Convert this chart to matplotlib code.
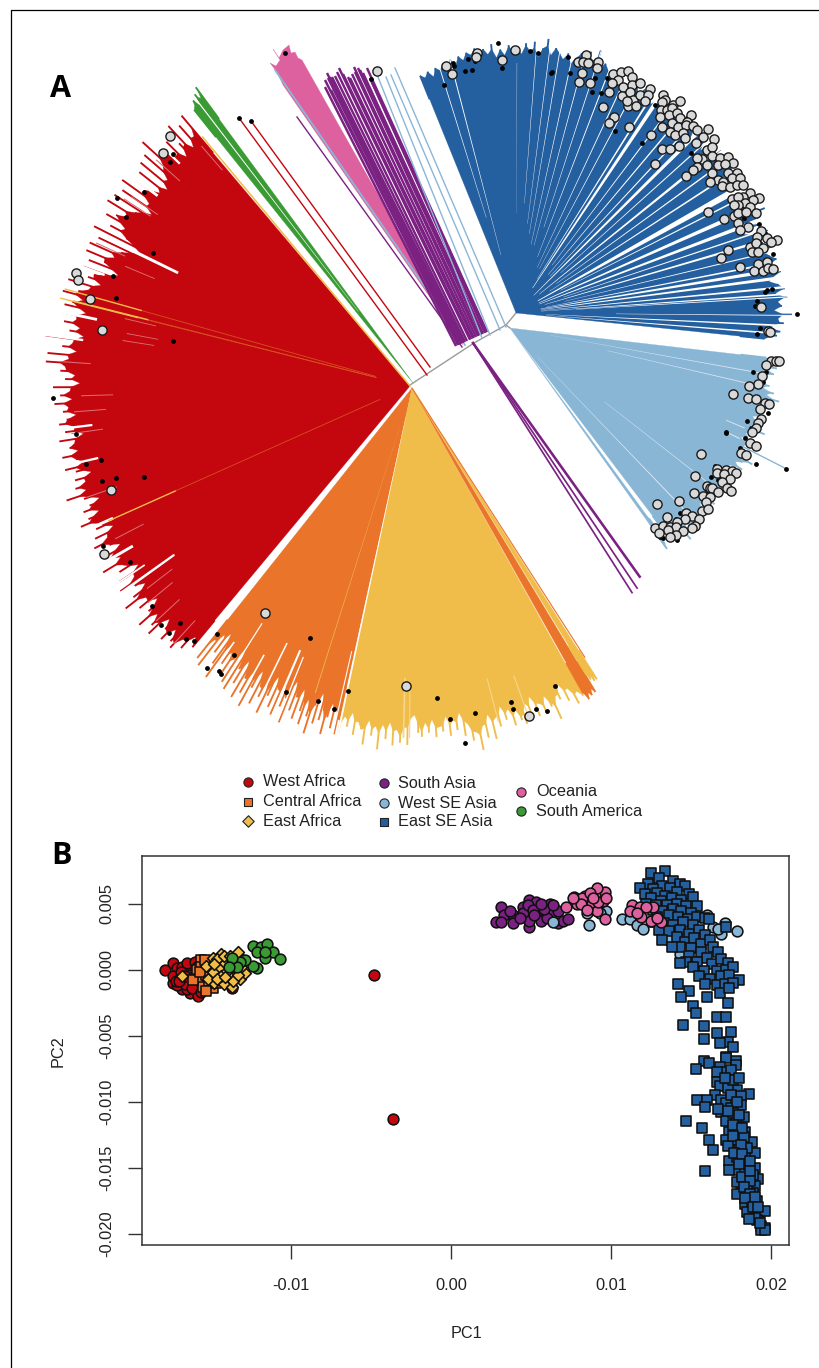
import numpy as np
import matplotlib
matplotlib.use("Agg")
import matplotlib.pyplot as plt
from matplotlib.patches import Polygon

plt.rcParams['font.family'] = ['Liberation Sans', 'DejaVu Sans']

RED, ORANGE, YELLOW = '#C4060F', '#E9742A', '#F0BD4A'
PURPLE, LBLUE, DBLUE = '#7A2182', '#8AB6D6', '#245F9F'
PINK, GREEN = '#DE619F', '#3A9A33'

# ---------- Panel A: tip lengths read from the tree (pixels from the hub)
red_tips = [354,330,348,322,355,335,320,345,328,342,
            335,362,330,352,318,350,312,345,316,340,
            330,354,318,348,310,352,325,355,330,340,
            349,325,340,320,354,300,345,318,351,322,
            351,330,345,312,348,335,340,325,358,335,
            345,360,338,348,355,332,355,340,352,335,
            345,330,368,340,350,335,364,342,365,345,
            350,335,345,330,357,340,350,338,356,342,
            348,335,345,353,338,348,330,355,340,346,
            338,355,342,335,355,345,330,348,338,350,
            340,362,345,330,342,350,335,348,358,340,
            345,328,350,338,355,340,330,345,350,336,
            359,338,345,325,350,335,355,340,330,348,
            361,338,350,330,345,361,340,352,360,335,
            345,355,338,350,355,340,348,330,340]
orange_tips = [345,320,350,310,330,305,340,355,315,335,320,345,325,350,310,355,
               330,345,318,358,335,350,325,362,340,320,355,335,345,328,360,340,
               318,350,330,356,322,345,335,360,315,345,330,352,320,342,355,328,
               345,362,332,350,318,345,335,358,340,325,350,330,355,340]
yellow_tips = [354,335,345,330,352,338,345,360,335,350,340,363,338,352,335,358,
               342,355,340,357,330,327,345,349,335,345,332,350,340,345,330,350,
               335,345,328,352,340,358,350,369,345,358,335,361,340,350,330,345,
               335,353,338,350,355,335,348,330,352,340,353,335,348,363,340,345,
               330,350,338,357,345,352]
orange_strip_tips = [350,358,352,356,350,355]
yellow_strip_tips = [335,342,338,345,340,345]
green_tips = [367,355,362,350,358,352,350]
lblue_tips = [258,262,255,270,262,268,258,262,255,266,260,272,265,279,268,262,270,258,
              262,266,258,262,268,260,276,265,258,262,255,268,262,258,270,265,278,268,
              262,272,258,265,270,262,268,258,265,271,262,268,260,266,258,270,262,265,
              258,272,264,268,260,275,265,270,262,268,278,262,270,265,258,262]
lblue_band_tips = [262,258,266,271]
dblue_tips = [256,252,257,250,258,254,260,252,262,255,263,258,265,
              262,268,258,266,260,270,256,264,258,268,261,
              265,259,270,262,272,257,266,276,260,268,263,
              258,265,255,262,268,258,272,264,276,258,265,
              260,252,262,250,258,248,260,254,262,250,258,252,260,248,256,262,
              258,250,262,248,260,252,258,246,256,262,248,258,250,260,246,256,
              254,262,250,258,246,256,264,250,258,244,255,262,250,257,246,
              262,272,250,270,255,268,260,240,265,258,262,250,264,256,260,
              266,258,262,268,260,255,264,270,260,272,262,266,258,276,262,268,255,265,262,250]

# white and pale streaks: angle (deg), half width (deg), inner radius
dblue_white = [(104.6,.12,60),(107.3,.1,100),(85.6,.07,110),(82.7,.08,90),(80.5,.09,80),(77.6,.1,70),
               (75,.1,70),(72,.1,90),(69,.13,60),(65,.13,50),(62,.13,50),(58,.22,40),(56.4,.45,30),
               (53,.15,60),(50,.18,50),(47,.18,50),(44.8,.45,25),(42,.15,60),(38.9,.35,30),(36,.18,50),
               (33,.22,40),(29.2,.75,25),(27,.18,50),(23.9,.5,25),(20.9,.45,25),(18.5,.18,50),(16.3,.3,30),
               (13.5,.14,50),(11,.22,30),(9.4,.4,25),(7.6,.35,25),(5.5,.25,25),(4,.2,25),(3.4,.13,60),
               (-.5,.1,100),(-2.7,.2,30),(-4.5,.2,30)]
red_pale = [(131,286),(138.3,308),(146.8,310),(145.8,305),(155.5,313),(157.2,277),(166.7,261),(169.5,256),
            (171,259),(181.7,297),(184.4,305),(188,310),(207.4,300),(222.8,314),(227.5,318),(215.6,289),
            (217.6,300),(219.6,308),(199,310),(176,320)]
red_white = [(154,.3,258),(136,.2,320),(143,.25,316),(160,.2,325),(172,.2,330),(168,.25,320),(187,.2,320),
             (193,.2,320),(204,.25,325),(210,.25,320),(215.6,.22,290),(214,.15,320)]
orange_white = [(246.9,.2,285),(237.5,.12,279),(243.9,.15,284),(248,.12,290),(257.1,.1,270),(235,.15,310),(241,.15,305)]
lblue_white = [(-10.2,.1,40),(-13.1,.1,100),(-46.2,.12,40),(-23.1,.1,235),(-25.7,.12,240),(-38,.08,120)]
yellow_lines_in_red = [(164.3,358),(165.9,360),(165.8,347),(204.1,330)]

# purple stem lines: tips and their base on the backbone
purple_tip_x = [325,325,331,328,333,327,332,330,335,337,339,343,348,350,352,355,354,358,360,363,370,372,367]
purple_tip_y = [87,80,90,78,85,73,77,77,76,72,68,74,77,78,74,72,67,68,70,73,78,82,68]
purple_base_x = [456,458,459,460,461,462,463,464,465,467,470,471,473,474,476,478,479,481,482,483,485,486,487]
lblue_tip_x = [395,391,386,378]
lblue_tip_y = [68,75,77,77]
lblue_base_x = [506,500,490,482]
lblue_base_y = [327,330,335,338]
pink_tip_x = [283,277,270,276,280,273,279,283,289,291,295,298,302]
pink_tip_y = [85,72,63,66,60,49,58,50,45,53,52,58,60]
long_purple_angle = [305.5,303.8,302.5]
long_purple_len = [287,295,296]
long_purple_w = [2.6,1.7,1.7]
backbone_x = [410,474,506,516]
backbone_y = [385,343,325,313]

red_dots_x = [239,251,173,170,144,117,126,153,113,116,173,53,76,86,101,102,116,144,103,130,152,161,169,180,186,194,
              217,207,219,221,234,310,286,348,318,334,437,450,475,465,511,513,536,547,555,285,371]
red_dots_y = [118,121,154,162,192,198,217,253,276,298,341,398,434,464,460,481,478,477,546,562,606,625,633,623,639,641,
              634,668,671,674,655,638,692,691,701,709,698,719,713,743,702,709,709,711,686,53,79]
west_circ_x = [170,163,76,78,90,102,111,104,265,406,529,377]
west_circ_y = [136,153,273,280,299,330,490,554,613,686,716,71]
dblue_circ_zoom = [(137,107),(155,133),(230,70),(228,82),(305,90),(345,60),(557,75),(533,97),(548,95),(563,100),(593,97),
 (590,115),(545,128),(537,155),(570,160),(640,132),(663,127),(685,122),(655,150),(695,142),(635,160),(668,172),(695,165),
 (720,160),(627,185),(665,197),(690,185),(700,210),(720,195),(750,178),(745,195),(735,213),(685,228),(708,228),(682,212),
 (610,230),(643,262),(627,280),(687,291),(752,316),(790,195),(795,210),(785,215),(820,225),(840,212),(782,240),(800,240),
 (815,235),(780,262),(806,255),(830,250),(872,255),(815,278),(840,265),(860,275),(785,290),(835,290),(858,285),(878,288),
 (923,297),(810,305),(825,315),(850,310),(890,300),(910,320),(855,325),(838,348),(887,338),(942,328),(786,358),(810,358),
 (765,402),(920,360),(935,350),(905,387),(890,385),(935,378),(960,385),(985,380),(1000,398),(955,405),(975,402),(920,405),
 (892,410),(880,420),(857,437),(935,430),(985,428),(1012,428),(955,450),(970,455),(995,445),(1020,445),(930,457),(965,468),
 (990,470),(1010,465),(1030,465),(1050,488),(1030,500),(995,508),(1015,500),(1078,505),(1060,510),(1035,520),(1015,525),
 (1050,530),(1002,525),(923,546),(1003,558),(973,568),(1015,550),(1038,545),(1067,550),(1015,578),(1045,590),(1020,600),
 (1082,603),(1070,620),(1100,625),(1131,630),(1112,635),(1050,650),(1068,640),(1090,655),(1055,665),(1075,665),(985,660),
 (962,685),(1020,710),(1075,702),(1100,695),(1062,722),(1088,722),(1105,715),(1120,717),(1082,830),(1105,903),(1110,905)]
dblue_dot_zoom = [(293,40),(390,63),(413,70),(503,80),(510,130),(455,125),(452,128),(307,113),(225,92),(215,120),(195,122),
 (203,88),(160,100),(163,107),(133,165),(577,186),(603,188),(622,143),(585,145),(645,303),(725,340),(705,210),(560,95),
 (765,225),(873,370),(1030,497),(1033,563),(1077,583),(1095,610),(1118,672),(1192,852),(1115,776),(1100,780),(1095,785),
 (1070,812),(1065,828),(1080,895),(1072,911),(543,128),(230,70),(700,172),(860,265),(870,270),(1010,455),(1020,520),
 (1045,595),(1060,640),(1080,640),(1095,690),(1100,700)]
lblue_circ_zoom = [(812,122),(828,123),(837,124),(797,135),(786,167),(775,193),(747,197),(700,222),(745,234),(767,237),
 (794,250),(807,253),(780,268),(783,296),(773,310),(767,323),(755,337),(749,370),(768,378),(724,399),(737,405),(603,401),
 (650,447),(678,450),(697,452),(652,460),(672,462),(707,460),(690,478),(585,467),(665,487),(620,497),(630,505),(637,505),
 (655,515),(680,505),(693,512),(582,519),(608,527),(630,530),(617,545),(470,552),(537,544),(605,572),(625,568),(500,591),
 (557,578),(575,587),(598,597),(555,597),(530,605),(465,623),(488,617),(510,620),(527,620),(585,617),(575,625),(505,630),
 (550,632),(477,640),(528,645),(510,650)]
lblue_dot_zoom = [(760,156),(798,157),(790,187),(805,278),(741,304),(752,323),(677,337),(677,340),(736,353),(720,385),
 (767,432),(857,447),(645,437),(632,471),(655,480),(690,510),(640,520),(610,530),(615,550),(540,580),(527,597),(480,652),
 (490,655),(530,660),(540,635),(575,630),(620,510),(635,525),(650,515)]

# ---------- Panel B: (PC1, PC2) in thousandths
west_africa = [(-17.9,0),(-17.4,.5),(-17.1,.1),(-16.8,.2),(-16.4,-.1),(-16.5,.5),(-16,.6),(-17.4,-1),(-16.9,-1.2),(-16.3,-1.8),
 (-15.8,-2),(-16.8,-1.5),(-17.1,-.6),(-17.4,-.5),(-16.7,-.7),(-16.1,-1),(-16.3,-.4),(-15.8,-1.4),(-13.7,-1.4),(-16.5,-1.5),
 (-17.1,-1.2),(-16,-.4),(-16.9,-.2),(-17.2,-.9),(-16.6,-1.1),(-15.9,.2),(-16.2,-1.4),(-16.6,-.5),(-15.6,-1.7),(-17,-.9),(-4.8,-.4),(-3.6,-11.3)]
central_africa = [(-15.6,.7),(-15.9,0),(-15.8,-.7),(-15.5,-1.3),(-14.9,-1.4),(-15.6,.2),(-16.1,-.8),(-15.3,-.4),(-15.4,.7),(-15.7,-.2),(-15.1,-.9),(-15.3,-1.6),(-14.7,-1)]
east_africa = [(-16.8,-.5),(-15.3,.3),(-14.9,.9),(-14.5,.1),(-14.8,-1),(-15.2,-.7),(-14.4,1.2),(-13.3,1.3),(-14.2,-1.1),(-13.9,-.5),
 (-13.7,-1.3),(-13.2,-.7),(-12.9,-.3),(-13.4,0),(-14.4,-.5),(-14.1,.5),(-13.7,.7),(-14.6,.8),(-13,.7),(-14,-.1),(-14.9,-.2),(-13.5,.4),(-14.2,1),(-13.1,.2),
 (-14.6,-.7),(-13.6,-.9),(-14.1,-.6),(-13.8,1),(-14.8,.4),(-13.3,-.4)]
south_america = [(-12.4,1.8),(-11.9,1.7),(-11.5,1.9),(-12.1,1.3),(-11.1,1.3),(-11.6,.9),(-10.7,.8),(-12.1,.1),(-12.4,.3),(-12.9,.7),
 (-13.2,.6),(-13.4,.2),(-13.7,.9),(-13.9,.2),(-11.6,1.3)]
south_asia = [(3.1,4.7),(3.3,4.1),(2.8,3.6),(3.1,3.6),(3.9,4.1),(3.9,3.5),(3.7,4.4),(4.5,4.7),(4.5,4.3),(4.9,5.3),(5.3,5.1),(4.9,3.2),
 (4.9,3.7),(5.4,4.4),(5.6,3.7),(6.2,5),(6.3,4.3),(6.7,3.5),(6.7,4.4),(7,3.7),(7.3,3.8),(4.3,3.9),(6,3.9),(4.8,4.9),(5.1,4.5),(5.8,4.6),(6.4,4.9),(5.6,5),(5.2,4.1)]
west_se_asia = [(6.4,3.6),(8.6,3.4),(8.5,4.3),(9.7,4.4),(9.3,4.3),(10.7,3.8),(11.2,3.8),(11.6,3.4),(12,3.1),(17.9,2.9),(17.1,3.5),(16.4,3.2),
 (16.9,2.7),(16,4.1),(16.7,3.1),(14.3,1.2),(13.6,2.2)]
east_se_asia = [(13.4,7.5),(12.5,7.3),(13.0,6.9),(13.9,6.7),(14.3,6.5),(12.3,6.5),(13.2,6.3),(11.8,6.2),(12.6,6.1),(13.7,6.2),(14.6,6.3),(12.1,5.7),
 (12.9,5.8),(13.4,5.6),(14.1,5.9),(14.9,5.7),(12.5,5.4),(13.1,5.2),(13.8,5.4),(14.4,5.3),(15.1,5.5),(12.2,5.0),(12.8,4.9),(13.5,4.9),(14.1,5.0),(14.7,4.8),
 (15.4,4.8),(12.6,4.5),(13.2,4.4),(13.9,4.6),(14.4,4.4),(15.0,4.3),(12.9,4.0),(13.6,4.1),(14.2,4.0),(14.8,3.8),(15.4,4.0),(15.9,3.9),(12.7,3.6),(13.3,3.5),
 (13.9,3.4),(14.5,3.6),(15.1,3.4),(16.1,3.8),(17.2,3.2),(13.0,3.0),(13.6,2.9),(14.3,3.0),(14.9,2.7),(15.5,3.0),(15.9,2.6),(13.2,2.2),(14.1,2.5),(14.6,2.1),
 (15.2,2.4),(15.6,1.9),(16.2,2.2),(14.3,1.7),(15.0,1.6),(16.4,1.7),(13.8,1.7),(15.6,1.3),(16.0,.9),(16.7,1.3),(14.9,1.0),(15.4,.6),(16.3,.4),(16.9,.8),(17.3,.5),
 (14.7,.6),(15.1,.2),(15.8,-.1),(16.6,-.1),(17.2,.0),(17.6,.2),(14.3,.5),(15.5,-.5),(16.2,-.7),(16.9,-.5),(17.4,-.4),(18,-.8),(15.9,-1.1),(16.6,-1.2),(17.1,-1.1),
 (17.6,-1.0),(14.2,-1.1),(14.9,-1.6),(14.4,-2.1),(15.1,-2.8),(15.3,-3.3),(16,-2.1),(16.8,-1.8),(17.3,-2.5),(17.4,-1.4),(16.6,-3.6),(17.2,-3.6),(15.8,-4.3),(14.5,-4.2),
 (16.6,-4.8),(17.5,-4.7),(17.3,-5.5),(16.8,-5.6),(15.8,-5.3),(17.6,-5.9),(15.8,-6.9),(17.2,-6.6),(17.8,-6.9),(15.3,-7.5),(17.2,-6.7),(16.1,-7.1),(16.8,-7.4),(17.8,-7.2),
 (17.2,-7.8),(16.6,-7.8),(17.5,-7.6),(16.6,-8.5),(16.8,-8.8),(17.9,-9.1),(17.3,-9),(18.6,-9.4),(17.6,-8.4),(17.1,-8.2),(18,-8.2),(16.5,-9.5),(15.4,-9.9),(16,-9.9),(15.9,-10.4),
 (16.9,-9.9),(18.1,-9.6),(17.2,-10.1),(18.1,-10.3),(17.5,-10.5),(16.9,-10.8),(16.7,-10.6),(18.3,-11.2),(17.8,-11.3),(17.2,-11.5),(17.6,-10.9),(14.7,-11.5),(15.7,-12),(17.9,-11.9),
 (18.4,-12.3),(17.4,-12.3),(16.1,-12.9),(17.2,-12.9),(17.9,-12.9),(18.8,-13.1),(18.3,-12.7),(16.4,-13.7),(17.3,-13.4),(18,-13.7),(19,-13.9),(18.4,-14.3),(17.4,-14.5),
 (17.9,-14.2),(18.5,-13.5),(15.9,-15.3),(17.9,-15.2),(18.4,-15.4),(17.4,-15.2),(19,-15),(18.6,-14.8),(19.2,-15.9),(18.9,-15.6),(17.9,-16.1),(18.5,-16.2),(19,-16.4),
 (18.1,-16.9),(18.9,-16.9),(17.9,-17),(18.5,-16.7),(19.1,-17.5),(18.4,-17.8),(18.8,-17.6),(18.8,-18.4),(19.3,-18.4),(19.6,-18.3),(18.5,-18.4),(19.1,-19),(19.4,-19.4),
 (19.6,-19.6),(19.4,-19.7),(19.6,-19.7),(19,-18.8),(19.3,-19.2),(17.5,-9.5),(17.9,-10),(17.3,-10.7),(18,-11),(17.6,-11.8),(18.2,-12),(17.6,-12.6),(18.1,-13.3),
 (17.7,-13.9),(18.2,-14),(18,-14.7),(18.7,-14.5),(18.2,-15.7),(18.7,-15.3),(18.7,-16),(18.3,-16.5),(18.7,-17),(18.4,-17.3),(19,-17.2),(18.9,-18),(19.2,-18),(18.6,-18.9)]
oceania = [(7.2,4.7),(7.7,5.5),(7.9,5),(8.4,5.6),(8.8,5),(9,5.9),(9.3,5.8),(9.6,5.9),(9.1,6.2),(9.5,5.2),(9.1,4.4),(9.6,3.8),(8.2,5.4),(9.2,5.1),(8.7,5.8),
 (8.9,5.4),(8.1,5),(7.6,5.4),(8.5,4.5),(9.7,5.4),(11.3,4.9),(11.8,4.7),(12.6,4.7),(11.2,4.4),(11.9,4),(12.5,3.7),(13.1,3.6),(12.2,4.7),(11.6,4.3),(12.9,3.9)]

legend_names = [['West Africa','Central Africa','East Africa'],['South Asia','West SE Asia','East SE Asia'],['Oceania','South America']]
legend_colors = [[RED,ORANGE,YELLOW],[PURPLE,LBLUE,DBLUE],[PINK,GREEN]]
legend_markers = [['o','s','D'],['o','o','s'],['o','o']]
legend_mx = [248,384,521]
legend_tx = [263,398,536]
legend_y = [[782,802,821],[783,803,822],[792,811]]

x_ticks = [-0.01,0.00,0.01,0.02]
x_tick_labels = ['-0.01','0.00','0.01','0.02']
y_ticks = [0.005,0.000,-0.005,-0.010,-0.015,-0.020]
y_tick_labels = ['0.005','0.000','-0.005','-0.010','-0.015','-0.020']

W, H = 819, 1368
fig = plt.figure(figsize=(W/100, H/100), dpi=100)
a = fig.add_axes([0,0,1,1])
a.set_xlim(0,W); a.set_ylim(H,0); a.axis('off')

def xy(h, ang, r):
    t = np.radians(ang)
    return h[0]+np.asarray(r)*np.cos(t), h[1]-np.asarray(r)*np.sin(t)

def fan(h, a0, a1, tips, color, z=2):
    tips = np.asarray(tips, float)
    ang = np.linspace(a0, a1, len(tips))
    n = len(tips)
    low = np.array([tips[max(i-1,0):min(i+2,n)].min() for i in range(n)])
    valley = np.minimum(tips, low + 9)
    x, y = xy(h, ang, valley)
    a.add_patch(Polygon([h]+list(zip(x, y)), closed=True, fc=color, ec=color, lw=0.2, zorder=z))
    xa, ya = xy(h, ang, valley*0.9)
    xb, yb = xy(h, ang, tips)
    for p, q, r, s in zip(xa, ya, xb, yb):
        a.plot([p,r],[q,s], color=color, lw=1.35, zorder=z, solid_capstyle='butt')

def streak(h, ang, hw, r0, r1, color='white', z=3):
    x0, y0 = xy(h, ang-hw, r0); x1, y1 = xy(h, ang-hw, r1)
    x2, y2 = xy(h, ang+hw, r1); x3, y3 = xy(h, ang+hw, r0)
    a.add_patch(Polygon([(x0,y0),(x1,y1),(x2,y2),(x3,y3)], closed=True, fc=color, ec='none', zorder=z))

hub_red = (410,386); hub_af = (412,388); hub_green = (413,383)
hub_db = (516,313); hub_lb = (510,328); hub_pink = (463,345); hub_long = (473,343)

a.plot(backbone_x, backbone_y, color='#9a9a9a', lw=1.0, zorder=1.5)
a.plot([506,510],[325,328], color='#9a9a9a', lw=1.0, zorder=1.5)

fan(hub_red, 130.2, 230.2, red_tips, RED)
for ang, r in red_pale:
    streak(hub_red, ang, .09, r, r+32, '#DC6F73')
for ang, hw, r in red_white:
    streak(hub_red, ang, hw, r, 380)
for ang, r in yellow_lines_in_red:
    x, y = xy(hub_red, ang, r)
    xm, ym = xy(hub_red, ang, r*0.78)
    a.plot([xm,x],[ym,y], color=YELLOW, lw=1.0, zorder=3.2)
    xi, yi = xy(hub_red, ang, r*0.1)
    a.plot([xi,xm],[yi,ym], color='#D8501F', lw=0.6, zorder=3.1)
xe, ye = xy(hub_red, 129.8, 324)
a.plot([hub_red[0],xe],[hub_red[1],ye], color=YELLOW, lw=1.1, zorder=3)

fan(hub_af, 231.5, 257.7, orange_tips, ORANGE)
fan(hub_af, 257.9, 299.1, yellow_tips, YELLOW)
fan(hub_af, 299.3, 301.1, orange_strip_tips, ORANGE, 2.1)
fan(hub_af, 301.3, 302.4, yellow_strip_tips, YELLOW, 2.1)
xe, ye = xy(hub_af, 302.7, 320)
a.plot([hub_af[0],xe],[hub_af[1],ye], color=ORANGE, lw=0.8, zorder=3)
for ang, hw, r in orange_white:
    streak(hub_af, ang, hw, r, 380)
streak(hub_af, 257.9, .16, 30, 380)
streak(hub_af, 252.4, .08, 40, 320, YELLOW)
streak(hub_af, 268.6, .15, 290, 350, '#F6D68A')
streak(hub_af, 269.6, .1, 295, 350, '#F6D68A')
streak(hub_af, 284.5, .1, 300, 345, '#F6D68A')
streak(hub_af, 289.5, .1, 305, 350, '#F6D68A')

fan(hub_green, 126.3, 128.7, green_tips, GREEN)
streak(hub_green, 127.4, .1, 90, 370)
for tx, ty, bx, by in [(239,118,427,375),(251,121,430,367)]:
    a.plot([bx,tx],[by,ty], color=RED, lw=1.0, zorder=2)

# stems of the Asian clades
a.add_patch(Polygon([hub_pink]+list(zip(pink_tip_x,pink_tip_y)), closed=True, fc=PINK, ec=PINK, lw=.2, zorder=2))
a.plot([465,275],[345,70], color=LBLUE, lw=1.3, zorder=2.1)
a.plot([462,297],[347,117], color=PURPLE, lw=1.0, zorder=2.2)
base_y = np.interp(purple_base_x, [456,487], [346,332])
for tx, ty, bx, by in zip(purple_tip_x, purple_tip_y, purple_base_x, base_y):
    a.plot([bx,tx],[by,ty], color=PURPLE, lw=1.75, zorder=2.3, solid_capstyle='butt')
for tx, ty, bx, by in zip(lblue_tip_x, lblue_tip_y, lblue_base_x, lblue_base_y):
    a.plot([bx,tx],[by,ty], color=LBLUE, lw=1.0, zorder=2.3)
for ang, r, w in zip(long_purple_angle, long_purple_len, long_purple_w):
    x, y = xy(hub_long, ang, r)
    a.plot([hub_long[0],x],[hub_long[1],y], color=PURPLE, lw=w*.72, zorder=2)

fan(hub_db, 112.0, -5.9, dblue_tips, DBLUE)
for ang, hw, r in dblue_white:
    streak(hub_db, ang, hw, r, 300)
streak(hub_db, 89.8, .07, 100, 250, '#8FB0D2')

fan(hub_lb, -6.6, -52.8, lblue_tips, LBLUE)
fan(hub_lb, -53.9, -54.6, lblue_band_tips, LBLUE)
for ang, hw, r in lblue_white:
    streak(hub_lb, ang, hw, r, 255, '#DCE9F3')
x, y = xy(hub_lb, -27, 309); xm, ym = xy(hub_lb, -27, 250)
a.plot([xm,x],[ym,y], color=LBLUE, lw=1.0, zorder=3)

cx = list(west_circ_x) + [400+p[0]/3 for p in dblue_circ_zoom] + [500+p[0]/3 for p in lblue_circ_zoom]
cy = list(west_circ_y) + [30+p[1]/3 for p in dblue_circ_zoom] + [320+p[1]/3 for p in lblue_circ_zoom]
dx = list(red_dots_x) + [400+p[0]/3 for p in dblue_dot_zoom] + [500+p[0]/3 for p in lblue_dot_zoom]
dy = list(red_dots_y) + [30+p[1]/3 for p in dblue_dot_zoom] + [320+p[1]/3 for p in lblue_dot_zoom]
a.scatter(dx, dy, s=12, c='black', linewidths=0, zorder=5)
a.scatter(cx, cy, s=44, c='#D9D9D9', edgecolors='#1a1a1a', linewidths=1.0, zorder=6)

for names, cols, marks, mx, tx, ys in zip(legend_names, legend_colors, legend_markers, legend_mx, legend_tx, legend_y):
    for n, c, m, y in zip(names, cols, marks, ys):
        a.scatter([mx],[y], s=44 if m=='o' else 34, marker=m, c=c, edgecolors='#222222', linewidths=.8, zorder=7)
        a.text(tx, y, n, fontsize=11.7, color='#222222', va='center', ha='left')

a.text(61, 89, 'A', fontsize=22, fontweight='bold', family='Open Sans', ha='center', va='center')
a.text(61, 856, 'B', fontsize=22, fontweight='bold', family='Open Sans', ha='center', va='center')
a.plot([11,11,819],[1368,9.5,9.5], color='black', lw=0.9, zorder=1)
a.text(466, 1334, 'PC1', fontsize=11.7, color='#222222', ha='center', va='center')
a.text(58, 1051, 'PC2', fontsize=11.7, color='#222222', rotation=90, ha='center', va='center')

# ---------- Panel B
L, R, T, B = 142, 789, 856, 1244.5
b = fig.add_axes([L/W, 1-B/H, (R-L)/W, (B-T)/H])
b.set_xlim((L-451)/16000, (R-451)/16000)
b.set_ylim((969.5-B)/13200, (969.5-T)/13200)
groups = [(west_africa,RED,'o',60),(central_africa,ORANGE,'s',44),(east_africa,YELLOW,'D',36),(south_america,GREEN,'o',60),
          (south_asia,PURPLE,'o',60),(west_se_asia,LBLUE,'o',60),(east_se_asia,DBLUE,'s',46),(oceania,PINK,'o',60)]
for pts, c, m, s in groups:
    arr = np.array(pts)*1e-3
    b.scatter(arr[:,0], arr[:,1], s=s, marker=m, c=c, edgecolors='#101010', linewidths=1.15)
b.set_xticks(x_ticks); b.set_xticklabels(x_tick_labels)
b.set_yticks(y_ticks); b.set_yticklabels(y_tick_labels, rotation=90, va='center')
b.tick_params(axis='x', length=10, width=1.0, pad=14, labelsize=11.8, labelcolor='#222222', color='#333333')
b.tick_params(axis='y', length=10, width=1.0, pad=10, labelsize=11.8, labelcolor='#222222', color='#333333')
for s in b.spines.values():
    s.set_linewidth(1.1); s.set_color('#333333')

fig.savefig('out.png', dpi=100)
